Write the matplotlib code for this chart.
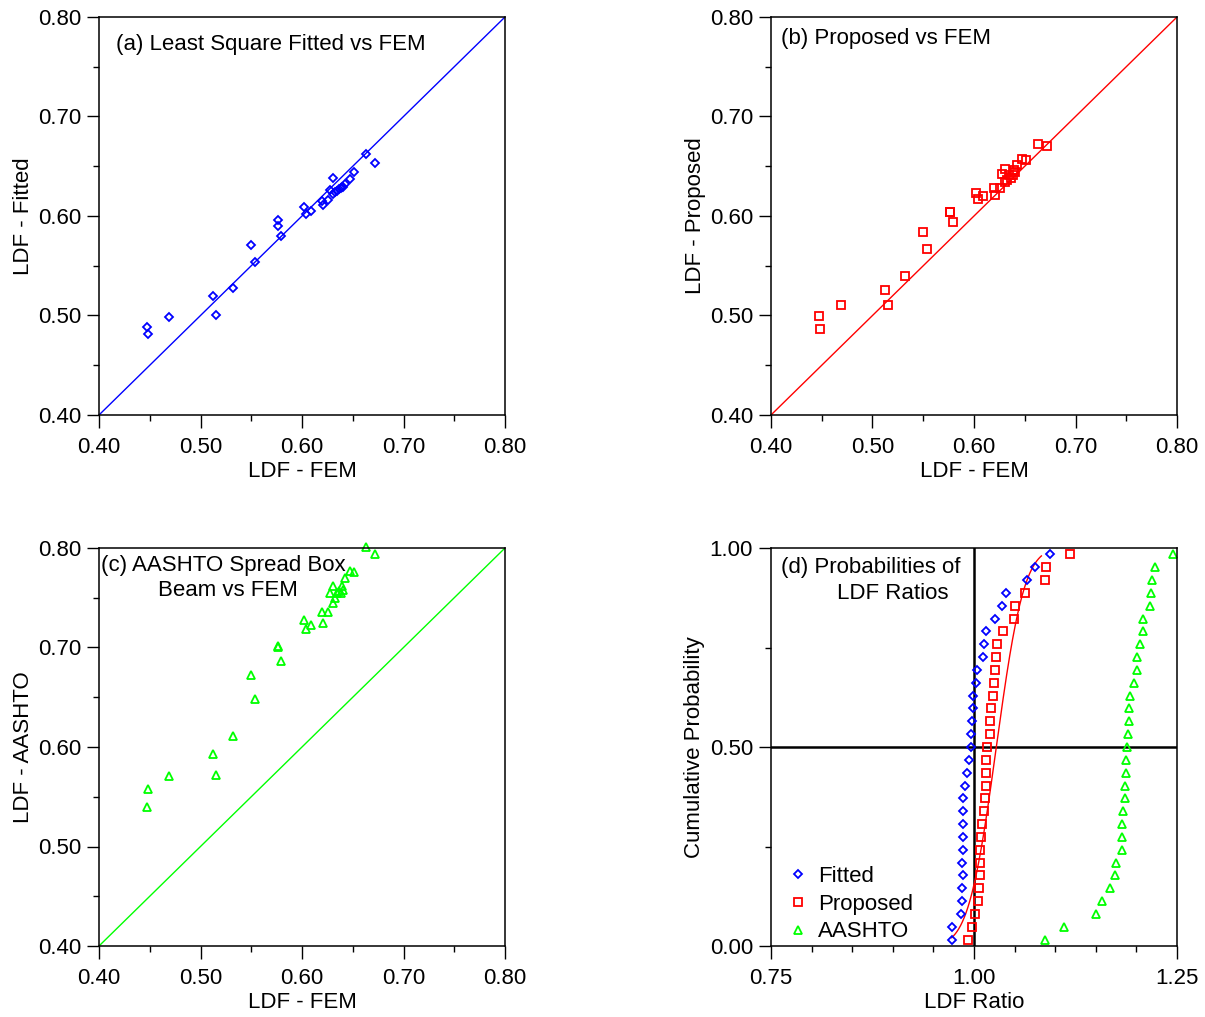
import math
import numpy as np
import matplotlib
matplotlib.use("Agg")
import matplotlib.pyplot as plt
from matplotlib.ticker import MultipleLocator, FormatStrFormatter

plt.rcParams['font.family'] = ['Liberation Sans', 'DejaVu Sans']

# ---------------- data ----------------
ldf_fem = [0.4476, 0.4483, 0.469, 0.5123, 0.5153, 0.5317, 0.550, 0.5534, 0.5760, 0.5767,
           0.579, 0.602, 0.604, 0.6086, 0.620, 0.621, 0.626, 0.628, 0.6305, 0.631,
           0.633, 0.6348, 0.636, 0.6381, 0.639, 0.640, 0.6424, 0.6470, 0.6515, 0.6634, 0.6719]
ldf_fitted = [0.4887, 0.4811, 0.4988, 0.5193, 0.5005, 0.528, 0.5705, 0.554, 0.5897, 0.5963,
              0.580, 0.6087, 0.602, 0.6053, 0.615, 0.6107, 0.6161, 0.6261, 0.6385, 0.6221,
              0.624, 0.6255, 0.627, 0.6285, 0.629, 0.6295, 0.6319, 0.6369, 0.6442, 0.6626, 0.653]
ldf_proposed = [0.4998, 0.4864, 0.5106, 0.5259, 0.5109, 0.5394, 0.5836, 0.5668, 0.6037, 0.6040,
                0.5937, 0.6231, 0.6171, 0.6201, 0.6284, 0.6208, 0.6278, 0.6419, 0.6345, 0.6472,
                0.636, 0.6412, 0.638, 0.6412, 0.6462, 0.6442, 0.6516, 0.657, 0.656, 0.6727, 0.670]
ldf_aashto = [0.540, 0.5575, 0.5712, 0.5930, 0.5719, 0.6114, 0.6727, 0.6485, 0.7012, 0.7005,
              0.6864, 0.7273, 0.7189, 0.7230, 0.7357, 0.7243, 0.7357, 0.7545, 0.7621, 0.745,
              0.750, 0.7545, 0.757, 0.7545, 0.7618, 0.7578, 0.7695, 0.7766, 0.7759, 0.8013, 0.794]

# sorted LDF ratios (panel d)
ratio_fitted = [0.9725, 0.9729, 0.984, 0.9856, 0.9856, 0.986, 0.9856, 0.986, 0.986, 0.9864,
                0.9868, 0.9864, 0.9893, 0.9918, 0.9943, 0.996, 0.9963, 0.9972, 0.9984, 0.9988,
                1.0025, 1.0033, 1.0107, 1.0127, 1.0152, 1.0259, 1.0349, 1.0394, 1.0653, 1.0748, 1.0936]
ratio_proposed = [0.9926, 0.9971, 1.0012, 1.0045, 1.0057, 1.0074, 1.0077, 1.0077, 1.0086, 1.0098,
                  1.0119, 1.0135, 1.0144, 1.0148, 1.0152, 1.0156, 1.0197, 1.0201, 1.0213, 1.023,
                  1.025, 1.0263, 1.0271, 1.028, 1.0353, 1.0489, 1.0501, 1.0628, 1.0871, 1.0891, 1.1182]
ratio_aashto = [1.0870, 1.1108, 1.1499, 1.158, 1.1671, 1.1733, 1.1749, 1.1823, 1.1823, 1.1823,
                1.1831, 1.186, 1.186, 1.1868, 1.1876, 1.1888, 1.1893, 1.1913, 1.1913, 1.1925,
                1.197, 1.2007, 1.2011, 1.2044, 1.2078, 1.2085, 1.2167, 1.2176, 1.2192, 1.2233, 1.2455]

# normal fit for proposed ratios
prop_mean = 1.0275
prop_std = 0.027
curve_range = (0.9725, 1.083)

BLUE = (0, 0, 1)
RED = (1, 0, 0)
GREEN = (0, 1, 0)

FS = 16
TFS = 16
W, H = 1205, 1017
fig = plt.figure(figsize=(W / 100, H / 100), dpi=100)

def add_ax(l, r, t, b):
    return fig.add_axes([l / W, 1 - b / H, (r - l) / W, (b - t) / H])

def style(ax, xlim, ylim, xmaj, xmin, ymaj, ymin):
    ax.set_xlim(*xlim)
    ax.set_ylim(*ylim)
    ax.xaxis.set_major_locator(MultipleLocator(xmaj))
    ax.xaxis.set_minor_locator(MultipleLocator(xmin))
    ax.yaxis.set_major_locator(MultipleLocator(ymaj))
    ax.yaxis.set_minor_locator(MultipleLocator(ymin))
    ax.xaxis.set_major_formatter(FormatStrFormatter('%.2f'))
    ax.yaxis.set_major_formatter(FormatStrFormatter('%.2f'))
    ax.tick_params(which='major', direction='out', length=9, width=1.0, labelsize=FS)
    ax.tick_params(which='minor', direction='out', length=4.5, width=1.0)
    ax.tick_params(axis='x', which='major', pad=7)
    ax.tick_params(axis='y', which='major', pad=4)
    for s in ax.spines.values():
        s.set_linewidth(1.1)

def scatter_panel(ax, yvals, color, marker, ms, ylabel, diag_color):
    style(ax, (0.4, 0.8), (0.4, 0.8), 0.1, 0.05, 0.1, 0.05)
    ax.plot([0.4, 0.8], [0.4, 0.8], color=diag_color, lw=1.0)
    ax.plot(ldf_fem, yvals, linestyle='none', marker=marker, ms=ms, mfc='none',
            mec=color, mew=1.3, clip_on=False)
    ax.set_xlabel('LDF - FEM', fontsize=FS, labelpad=2)
    ax.set_ylabel(ylabel, fontsize=FS, labelpad=3)

ax_a = add_ax(99, 505, 17, 415)
scatter_panel(ax_a, ldf_fitted, BLUE, 'D', 4.5, 'LDF - Fitted', BLUE)
ax_a.text(0.043, 0.932, '(a) Least Square Fitted vs FEM', transform=ax_a.transAxes,
          fontsize=TFS, va='center', ha='left')

ax_b = add_ax(771, 1177, 17, 415)
scatter_panel(ax_b, ldf_proposed, RED, 's', 5.5, 'LDF - Proposed', RED)
ax_b.text(0.025, 0.945, '(b) Proposed vs FEM', transform=ax_b.transAxes,
          fontsize=TFS, va='center', ha='left')

ax_c = add_ax(99, 505, 548, 946)
scatter_panel(ax_c, ldf_aashto, GREEN, '^', 5.5, 'LDF - AASHTO', GREEN)
ax_c.text(0.307, 0.956, '(c) AASHTO Spread Box', transform=ax_c.transAxes,
          fontsize=TFS, va='center', ha='center')
ax_c.text(0.317, 0.894, 'Beam vs FEM', transform=ax_c.transAxes,
          fontsize=TFS, va='center', ha='center')

# ---------------- panel d ----------------
ax_d = add_ax(771, 1177, 548, 946)
style(ax_d, (0.75, 1.25), (0.0, 1.0), 0.25, 0.05, 0.5, 0.25)
n = len(ratio_fitted)
pp = [(i + 0.5) / n for i in range(n)]
ax_d.axvline(1.0, color='black', lw=1.8)
ax_d.axhline(0.5, color='black', lw=1.8)
xc = np.linspace(curve_range[0], curve_range[1], 200)
yc = [0.5 * (1 + math.erf((x - prop_mean) / (prop_std * math.sqrt(2)))) for x in xc]
ax_d.plot(xc, yc, color=RED, lw=1.0)
ax_d.plot(ratio_fitted, pp, linestyle='none', marker='D', ms=4.5, mfc='none', mec=BLUE,
          mew=1.3, label='Fitted', clip_on=False)
ax_d.plot(ratio_proposed, pp, linestyle='none', marker='s', ms=5.5, mfc='none', mec=RED,
          mew=1.3, label='Proposed', clip_on=False)
ax_d.plot(ratio_aashto, pp, linestyle='none', marker='^', ms=5.5, mfc='none', mec=GREEN,
          mew=1.3, label='AASHTO', clip_on=False)
ax_d.set_xlabel('LDF Ratio', fontsize=FS, labelpad=2)
ax_d.set_ylabel('Cumulative Probability', fontsize=FS, labelpad=3)
ax_d.text(0.025, 0.95, '(d) Probabilities of', transform=ax_d.transAxes,
          fontsize=TFS, va='center', ha='left')
ax_d.text(0.162, 0.886, 'LDF Ratios', transform=ax_d.transAxes,
          fontsize=TFS, va='center', ha='left')
ax_d.legend(loc='lower left', bbox_to_anchor=(0.0, -0.03), frameon=False, fontsize=16,
            numpoints=1, handlelength=1.0, handletextpad=0.4, labelspacing=0.3,
            borderaxespad=0.3)

fig.savefig('out.png', dpi=100)
